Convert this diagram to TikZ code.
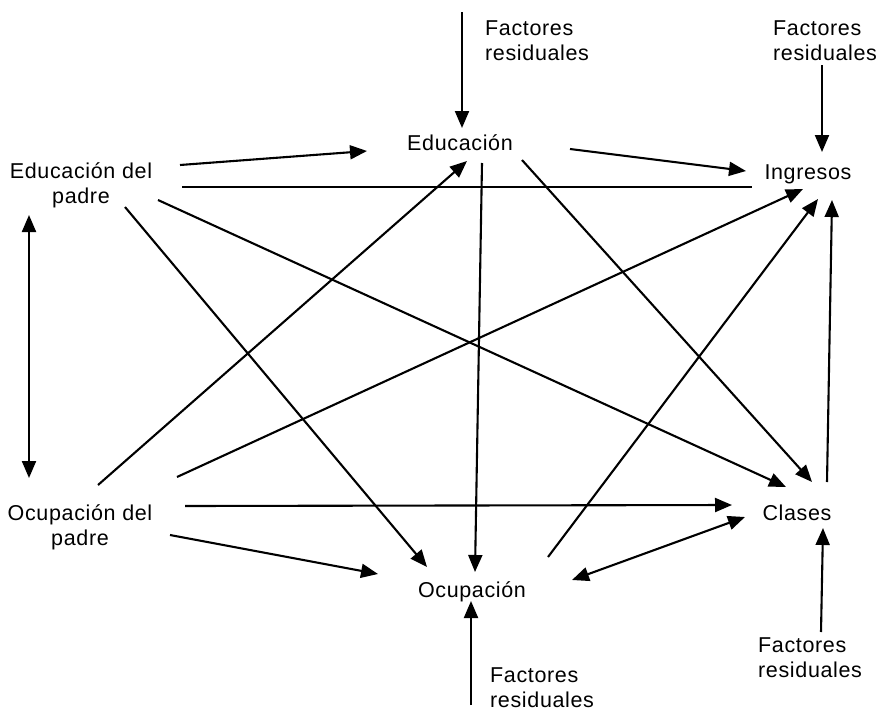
\documentclass[tikz,border=0pt]{standalone}
\usepackage{fontspec}
\setmainfont[LetterSpace=3]{Liberation Sans}
\usetikzlibrary{arrows.meta}
\begin{document}
\begin{tikzpicture}[x=1pt,y=-1pt,
  lbl/.style={inner sep=0pt,anchor=base,font=\fontsize{21.5}{25}\selectfont},
  fac/.style={lbl,anchor=base west,align=left},
  conn/.style={line width=2.1pt},
  tipshape/.tip={Triangle[length=17pt,width=14pt]},
  arr/.style={conn,-tipshape},
  darr/.style={conn,tipshape-tipshape}]
\useasboundingbox (0,0) rectangle (878,712);
% labels (base = baseline of last line)
\node[lbl,align=center] (edp) at (81,203) {Educación del\\padre};
\node[lbl] (edu) at (460,150) {Educación};
\node[lbl] (ing) at (808,179) {Ingresos};
\node[lbl] (cla) at (797,520) {Clases};
\node[lbl] (ocu) at (472,597) {Ocupación};
\node[lbl,align=center] (odp) at (80,545) {Ocupación del\\padre};
\node[fac] (f1) at (485,60) {Factores\\residuales};
\node[fac] (f2) at (773,60) {Factores\\residuales};
\node[fac] (f3) at (490,707) {Factores\\residuales};
\node[fac] (f4) at (758,677) {Factores\\residuales};
% connector end points
\coordinate (f1-s) at (462,12);   \coordinate (edu-n) at (462,128);
\coordinate (f2-s) at (822,65);   \coordinate (ing-n) at (822,152);
\coordinate (edp-a) at (180,165); \coordinate (edu-w) at (367,151);
\coordinate (edp-b) at (182,187); \coordinate (ing-w) at (752,187);
\coordinate (edu-e) at (570,149); \coordinate (ing-wa) at (746,171);
\coordinate (edu-se) at (522,160); \coordinate (cla-nb) at (812,482);
\coordinate (edp-c) at (125,207); \coordinate (ocu-nw) at (427,567);
\coordinate (edp-d) at (158,200); \coordinate (cla-na) at (786,487);
\coordinate (edu-s) at (482,163); \coordinate (ocu-n) at (475,572);
\coordinate (edp-s) at (29,215);  \coordinate (odp-n) at (29,478);
\coordinate (odp-a) at (98,485);  \coordinate (edu-sw) at (467,161);
\coordinate (odp-b) at (177,477); \coordinate (ing-sa) at (803,189);
\coordinate (ocu-e) at (548,557); \coordinate (ing-sb) at (818,199);
\coordinate (cla-n) at (827,482); \coordinate (ing-sc) at (832,200);
\coordinate (odp-c) at (185,506); \coordinate (cla-w) at (732,505);
\coordinate (odp-d) at (170,535); \coordinate (ocu-w) at (378,574);
\coordinate (ocu-ea) at (572,580); \coordinate (cla-sw) at (745,517);
\coordinate (f3-s) at (471,705);  \coordinate (ocu-s) at (471,601);
\coordinate (f4-s) at (821,632);  \coordinate (cla-s) at (823,528);
% connectors
\draw[arr] (f1-s) -- (edu-n);
\draw[arr] (f2-s) -- (ing-n);
\draw[arr] (edp-a) -- (edu-w);
\draw[conn] (edp-b) -- (ing-w);
\draw[arr] (edu-e) -- (ing-wa);
\draw[arr] (edu-se) -- (cla-nb);
\draw[arr] (edp-c) -- (ocu-nw);
\draw[arr] (edp-d) -- (cla-na);
\draw[arr] (edu-s) -- (ocu-n);
\draw[darr] (edp-s) -- (odp-n);
\draw[arr] (odp-a) -- (edu-sw);
\draw[arr] (odp-b) -- (ing-sa);
\draw[arr] (ocu-e) -- (ing-sb);
\draw[arr] (cla-n) -- (ing-sc);
\draw[arr] (odp-c) -- (cla-w);
\draw[arr] (odp-d) -- (ocu-w);
\draw[darr] (ocu-ea) -- (cla-sw);
\draw[arr] (f3-s) -- (ocu-s);
\draw[arr] (f4-s) -- (cla-s);
\end{tikzpicture}
\end{document}
